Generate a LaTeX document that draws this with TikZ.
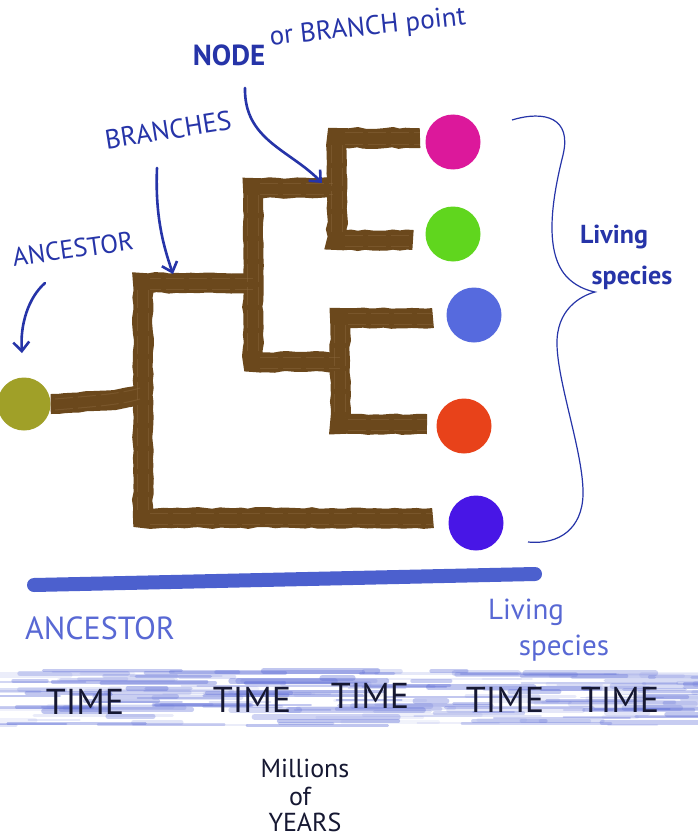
\documentclass[tikz,border=0pt]{standalone}
\usepackage{fontspec}
\setmainfont{PT Sans}
\usetikzlibrary{arrows.meta,decorations.pathmorphing}
\definecolor{brush}{RGB}{107,72,28}
\definecolor{brushlt}{RGB}{140,105,62}
\definecolor{ink}{RGB}{38,52,168}
\definecolor{inklt}{RGB}{88,104,212}
\definecolor{barblue}{RGB}{76,96,206}
\definecolor{wave}{RGB}{95,110,215}
\definecolor{dark}{RGB}{22,24,50}
\definecolor{cmag}{RGB}{220,24,155}
\definecolor{cgreen}{RGB}{96,214,30}
\definecolor{cblue}{RGB}{86,106,222}
\definecolor{cred}{RGB}{232,66,26}
\definecolor{cviolet}{RGB}{72,22,230}
\definecolor{colive}{RGB}{160,160,40}
\tikzset{
  branch/.style={draw=brush, line width=20pt, line join=miter, line cap=butt,
    decorate, decoration={random steps, segment length=7pt, amplitude=0.9pt}},
  branchhl/.style={draw=brushlt, line width=1pt, opacity=0.45, dash pattern=on 18pt off 5pt},
  species/.style={circle, minimum size=55pt, inner sep=0pt},
  lab/.style={text=ink, inner sep=1pt},
  lablt/.style={text=inklt, inner sep=1pt},
  arr/.style={draw=ink, line width=2.6pt, line cap=round,
    -{Straight Barb[length=9pt,width=16pt,line width=2.6pt]}},
  timelab/.style={text=dark, font=\fontsize{36}{36}\selectfont, inner sep=1pt},
  yearlab/.style={text=dark, font=\fontsize{26}{26}\selectfont, inner sep=1pt}
}
\begin{document}
\begin{tikzpicture}[x=1pt,y=-1pt]
\useasboundingbox (0,0) rectangle (698,840);
\fill[white] (0,0) rectangle (698,840);

% wavy texture band
\pgfmathsetseed{42}
\foreach \i in {1,...,190}{
  \pgfmathsetmacro{\xa}{rnd*780-60}
  \pgfmathsetmacro{\ya}{670+rnd*56}
  \pgfmathsetmacro{\la}{30+rnd*130}
  \pgfmathsetmacro{\op}{0.08+rnd*0.32}
  \pgfmathsetmacro{\lw}{1.5+rnd*4.5}
  \draw[line width=\lw pt, color=wave, opacity=\op, line cap=round] (\xa,\ya) -- ++(\la,0);
}

% species circles
\node[species, fill=cmag] (s1) at (453,142) {};
\node[species, fill=cgreen] (s2) at (453,234) {};
\node[species, fill=cblue] (s3) at (474,315) {};
\node[species, fill=cred] (s4) at (464,426) {};
\node[species, fill=cviolet] (s5) at (476,523) {};
\node[circle, minimum size=53pt, inner sep=0pt, fill=colive] (anc) at (24,404) {};

% tree coordinates
\coordinate (rtop) at (143,283);
\coordinate (rbot) at (143,518);
\coordinate (atop) at (253,188);
\coordinate (abot) at (253,362);
\coordinate (btop) at (337,138);
\coordinate (bbot) at (337,240);
\coordinate (ctop) at (340,318);
\coordinate (cbot) at (340,424);

% branches
\draw[branch] (anc.east) .. controls (90,402) and (120,400) .. (147,393);
\draw[branch] (253,283) -- (rtop) -- (rbot) -- (433,518);
\draw[branch] (333,188) -- (atop) -- (abot) -- (cbot |- abot);
\draw[branch] (420,138) -- (btop) -- (bbot) -- (413,240);
\draw[branch] (433,318) -- (ctop) -- (cbot) -- (427,424);
\foreach \d in {-6,5}{
  \draw[branchhl, yshift=\d pt] (253,283) -- (150,283);
  \draw[branchhl, yshift=\d pt] (150,518) -- (433,518);
  \draw[branchhl, xshift=\d pt] (143,290) -- (143,510);
  \draw[branchhl, xshift=\d pt] (253,195) -- (253,355);
  \draw[branchhl, yshift=\d pt] (260,362) -- (340,362);
  \draw[branchhl, yshift=\d pt] (260,188) -- (333,188);
  \draw[branchhl, yshift=\d pt] (345,138) -- (420,138);
  \draw[branchhl, yshift=\d pt] (345,240) -- (413,240);
  \draw[branchhl, xshift=\d pt] (337,145) -- (337,233);
  \draw[branchhl, yshift=\d pt] (348,318) -- (433,318);
  \draw[branchhl, yshift=\d pt] (348,424) -- (427,424);
  \draw[branchhl, xshift=\d pt] (340,325) -- (340,417);
  \draw[branchhl, yshift=\d pt] (55,404) .. controls (90,401) and (120,399) .. (140,393);
}

% annotations
\node[lab, font=\bfseries\fontsize{29}{29}\selectfont] (nodelab) at (229,55) {NODE};
\node[lab, font=\fontsize{27}{27}\selectfont, rotate=6, anchor=south west] (orlab) at (270,52) {or BRANCH point};
\coordinate (n1) at (245,88);
\coordinate (n2) at (322,183);
\draw[arr] (n1) .. controls (244,140) and (290,150) .. (n2);

\node[lab, font=\fontsize{27}{27}\selectfont, rotate=9] (brlab) at (168,130) {BRANCHES};
\coordinate (b1) at (157,168);
\coordinate (b2) at (173,274);
\draw[arr] (b1) .. controls (155,215) and (163,245) .. (b2);

\node[lab, font=\fontsize{26}{26}\selectfont, rotate=8] (anclab) at (73,249) {ANCESTOR};
\coordinate (c1) at (45,283);
\coordinate (c2) at (22,353);
\draw[arr] (c1) .. controls (28,298) and (20,325) .. (c2);

% brace
\coordinate (br1) at (512,120);
\coordinate (brtip) at (595,292);
\coordinate (br2) at (528,542);
\draw[ink, line width=1.2pt] (br1) .. controls (545,110) and (572,118) .. (563,155)
  .. controls (553,195) and (543,250) .. (566,276)
  .. controls (574,285) and (585,290) .. (brtip)
  .. controls (580,296) and (556,310) .. (557,345)
  .. controls (558,385) and (584,455) .. (583,495)
  .. controls (582,528) and (560,545) .. (br2);
\node[lab, font=\bfseries\fontsize{26}{26}\selectfont] (liv1) at (614,237) {Living};
\node[lab, font=\bfseries\fontsize{26}{26}\selectfont] (liv2) at (632,278) {species};

% time bar
\coordinate (t0) at (34,585);
\coordinate (t1) at (535,574);
\draw[barblue, line width=14pt, line cap=round] (t0) -- (t1);
\node[lablt, font=\fontsize{32}{32}\selectfont] (anc2) at (100,628) {ANCESTOR};
\node[lablt, font=\fontsize{29}{29}\selectfont] (liv3) at (526,612) {Living};
\node[lablt, font=\fontsize{29}{29}\selectfont] (liv4) at (564,648) {species};

% TIME labels
\node[timelab] (tm1) at (85,702) {TIME};
\node[timelab] (tm2) at (252,700) {TIME};
\node[timelab] (tm3) at (370,696) {TIME};
\node[timelab] (tm4) at (505,700) {TIME};
\node[timelab] (tm5) at (620,700) {TIME};

\node[yearlab] (y1) at (305,768) {Millions};
\node[yearlab] (y2) at (300,796) {of};
\node[yearlab] (y3) at (305,822) {YEARS};
\end{tikzpicture}
\end{document}
